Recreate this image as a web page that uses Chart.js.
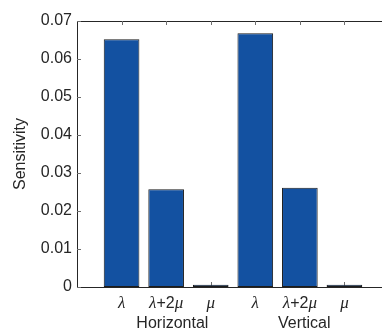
<!DOCTYPE html>
<html>
<head>
<meta charset="utf-8">
<script src="https://cdn.jsdelivr.net/npm/chart.js@4"></script>
<style>
  html, body { margin: 0; padding: 0; background: #fff; }
  #wrap { width: 382px; height: 335px; overflow: hidden; }
</style>
</head>
<body>
<div id="wrap">
  <canvas id="barChart" width="392" height="335" style="width:392px;height:335px"></canvas>
</div>
<script>
// Sensitivity of the elastic parameters, horizontal and vertical components
const positions = [1, 2, 3, 4, 5, 6];
const sensitivity = [0.0652, 0.0257, 0.0006, 0.0668, 0.0261, 0.0006];

// tick label pieces: [text, italic?]
const tickLabels = [
    [['λ', true]],
    [['λ', true], ['+2', false], ['μ', true]],
    [['μ', true]],
    [['λ', true]],
    [['λ', true], ['+2', false], ['μ', true]],
    [['μ', true]]
];
const groupNames = ['Horizontal', 'Vertical'];
const groupCenters = [2.14, 5.1];

const yTicks = [0, 0.01, 0.02, 0.03, 0.04, 0.05, 0.06, 0.07];

const axisColor = '#262626';
const sans = '"Liberation Sans", Arial, sans-serif';
const serif = '"Liberation Serif", "Times New Roman", serif';

// MATLAB style box: inward ticks, drawn under the bars
const axesPlugin = {
    id: 'axesPlugin',
    beforeDatasetsDraw(chart) {
        const ctx = chart.ctx;
        const a = chart.chartArea;
        const x = chart.scales.x;
        const y = chart.scales.y;
        ctx.save();
        ctx.strokeStyle = axisColor;
        ctx.lineWidth = 1;
        ctx.beginPath();
        // left, top and bottom axis lines
        ctx.moveTo(a.left + 0.5, a.bottom + 0.5);
        ctx.lineTo(a.left + 0.5, a.top + 0.5);
        ctx.lineTo(a.right, a.top + 0.5);
        ctx.moveTo(a.left, a.bottom + 0.5);
        ctx.lineTo(a.right, a.bottom + 0.5);
        ctx.stroke();

        ctx.strokeStyle = '#6e6e6e';
        ctx.beginPath();
        yTicks.forEach(v => {
            const py = Math.round(y.getPixelForValue(v)) + 0.5;
            ctx.moveTo(a.left, py);
            ctx.lineTo(a.left + 4, py);
        });
        positions.forEach(v => {
            const px = Math.round(x.getPixelForValue(v)) + 0.5;
            ctx.moveTo(px, a.top);
            ctx.lineTo(px, a.top + 4);
            ctx.moveTo(px, a.bottom);
            ctx.lineTo(px, a.bottom - 5);
        });
        ctx.stroke();
        ctx.restore();
    },
    afterDraw(chart) {
        const ctx = chart.ctx;
        const a = chart.chartArea;
        const x = chart.scales.x;
        ctx.save();
        ctx.fillStyle = axisColor;
        ctx.textBaseline = 'middle';
        // category labels with italic symbols
        tickLabels.forEach((parts, i) => {
            const fonts = parts.map(p => p[1] ? 'italic 17px ' + serif : '16px ' + sans);
            let total = 0;
            const widths = parts.map((p, j) => {
                ctx.font = fonts[j];
                const w = ctx.measureText(p[0]).width;
                total += w;
                return w;
            });
            let px = x.getPixelForValue(positions[i]) - total / 2;
            parts.forEach((p, j) => {
                ctx.font = fonts[j];
                ctx.textAlign = 'left';
                ctx.fillText(p[0], px, a.bottom + 17);
                px += widths[j];
            });
        });
        // group names under the categories
        ctx.font = '16px ' + sans;
        ctx.textAlign = 'center';
        groupNames.forEach((name, i) => {
            ctx.fillText(name, x.getPixelForValue(groupCenters[i]), a.bottom + 37);
        });
        ctx.restore();
    }
};

new Chart(document.getElementById('barChart'), {
    type: 'bar',
    data: {
        datasets: [{
            data: positions.map((p, i) => ({ x: p, y: sensitivity[i] })),
            backgroundColor: '#1351a1',
            borderColor: '#1c1c1c',
            borderWidth: 1,
            borderSkipped: false,
            barPercentage: 0.8,
            categoryPercentage: 1
        }]
    },
    options: {
        responsive: false,
        animation: false,
        devicePixelRatio: 1,
        layout: { padding: { top: 21, bottom: 48, right: 3, left: 0 } },
        plugins: {
            legend: { display: false },
            tooltip: { enabled: false }
        },
        scales: {
            x: {
                type: 'linear',
                min: 0,
                max: 7,
                offset: false,
                ticks: { display: false },
                grid: { display: false, drawTicks: false },
                border: { display: false }
            },
            y: {
                min: 0,
                max: 0.07,
                afterFit: scale => { scale.width = 77; },
                afterBuildTicks: scale => { scale.ticks = yTicks.map(v => ({ value: v })); },
                ticks: {
                    color: axisColor,
                    padding: 5,
                    font: { family: sans, size: 16 },
                    callback: v => v === 0 ? '0' : v.toFixed(2)
                },
                grid: { display: false, drawTicks: false },
                border: { display: false },
                title: {
                    display: true,
                    text: 'Sensitivity',
                    color: axisColor,
                    font: { family: sans, size: 16 },
                    padding: { top: 11, bottom: 0 }
                }
            }
        }
    },
    plugins: [axesPlugin]
});
</script>
</body>
</html>
